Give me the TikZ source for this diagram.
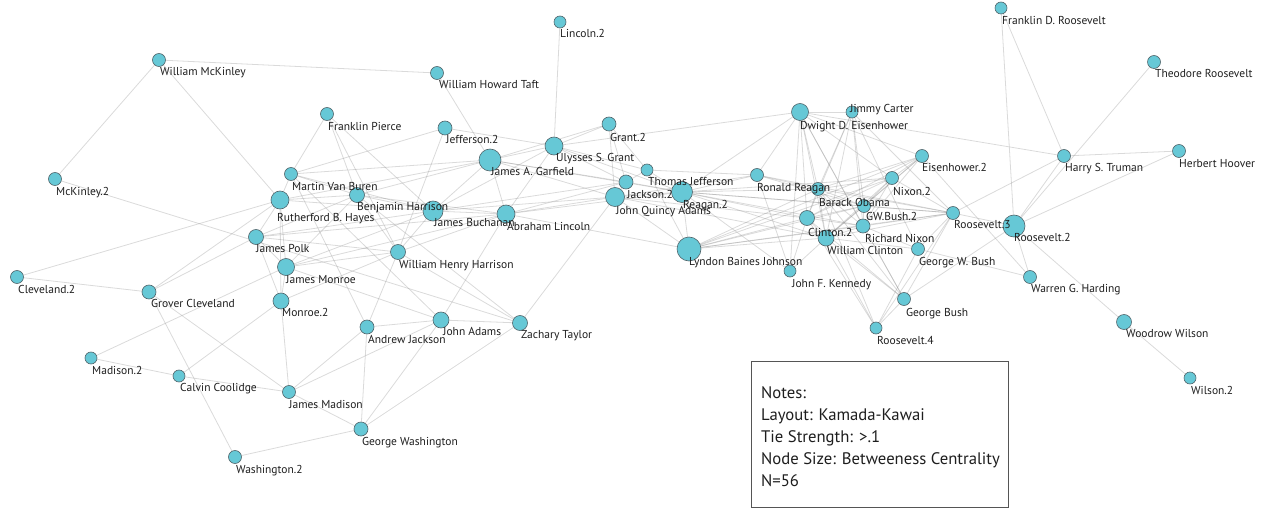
\documentclass[tikz,border=0pt]{standalone}
\usepackage{fontspec}
\setmainfont{PT Sans}
\usetikzlibrary{backgrounds}

\definecolor{nodefill}{RGB}{102,200,214}
\definecolor{nodeline}{RGB}{80,100,106}
\definecolor{tiecol}{RGB}{140,140,140}
\definecolor{boxline}{RGB}{85,85,85}
\definecolor{labtext}{RGB}{30,30,30}

\pgfdeclarelayer{names}
\pgfsetlayers{background,main,names}

\tikzset{
  presnode/.style={circle, fill=nodefill, draw=nodeline, line width=0.6pt,
                   inner sep=0pt, minimum size=#1},
  presname/.style={anchor=north west, inner sep=0pt, text=labtext,
                   font=\fontsize{11.5}{12}\selectfont},
  tie/.style={draw=tiecol, line width=0.8pt, opacity=0.32},
}

% \president{id}{x}{y}{diameter}{label x}{label y}{name}
\newcommand{\president}[7]{%
  \node[presnode=#4] (#1) at (#2,#3) {};
  \begin{pgfonlayer}{names}\node[presname] (#1-t) at (#5,#6) {#7};\end{pgfonlayer}}

\begin{document}
\begin{tikzpicture}[x=1pt,y=-1pt]
\useasboundingbox (0,0) rectangle (1267,508);

% presidents, sized by betweenness
\president{mck}{159}{60}{13}{160}{67}{William McKinley}
\president{mck2}{55}{179}{13}{56}{187}{McKinley.2}
\president{lin2}{560}{22}{12}{560}{29}{Lincoln.2}
\president{taft}{437}{73}{13}{439}{80}{William Howard Taft}
\president{pierce}{327}{114}{13}{328}{122}{Franklin Pierce}
\president{jef2}{445}{128}{14}{446}{135}{Jefferson.2}
\president{grant}{554}{146}{18}{556}{153}{Ulysses S. Grant}
\president{grant2}{609}{124}{14}{610}{133}{Grant.2}
\president{garf}{490}{160}{22}{491}{167}{James A. Garfield}
\president{mvb}{291}{174}{13}{292}{182}{Martin Van Buren}
\president{hayes}{280}{200}{18}{277}{213}{Rutherford B. Hayes}
\president{bharr}{357}{195}{15}{357}{202}{Benjamin Harrison}
\president{polk}{256}{237}{15}{256}{244}{James Polk}
\president{monroe}{286}{267}{17}{286}{275}{James Monroe}
\president{monroe2}{281}{301}{16}{282}{308}{Monroe.2}
\president{whh}{398}{252}{15}{399}{260}{William Henry Harrison}
\president{buch}{433}{211}{20}{434}{218}{James Buchanan}
\president{lincoln}{506}{214}{18}{507}{222}{Abraham Lincoln}
\president{tjef}{647}{170}{12}{648}{177}{Thomas Jefferson}
\president{jack2}{626}{182}{14}{627}{190}{Jackson.2}
\president{jqa}{615}{197}{19}{616}{206}{John Quincy Adams}
\president{reag2}{682}{192}{21}{683}{200}{Reagan.2}
\president{lbj}{689}{249}{24}{689}{257}{Lyndon Baines Johnson}
\president{dde}{800}{112}{17}{800}{121}{Dwight D. Eisenhower}
\president{carter}{852}{112}{12}{850}{104}{Jimmy Carter}
\president{rreag}{757}{175}{13}{757}{183}{Ronald Reagan}
\president{obama}{818}{189}{13}{819}{198}{Barack Obama}
\president{eis2}{922}{156}{13}{922}{163}{Eisenhower.2}
\president{nix2}{892}{178}{13}{893}{187}{Nixon.2}
\president{gwb2}{864}{206}{13}{866}{212}{GW.Bush.2}
\president{clin2}{807}{218}{15}{808}{228}{Clinton.2}
\president{rnix}{863}{226}{14}{865}{234}{Richard Nixon}
\president{wclin}{826}{238}{16}{827}{246}{William Clinton}
\president{roos3}{953}{213}{13}{954}{220}{Roosevelt.3}
\president{gwb}{918}{249}{13}{919}{257}{George W. Bush}
\president{jfk}{790}{271}{12}{792}{279}{John F. Kennedy}
\president{gbush}{904}{299}{13}{906}{308}{George Bush}
\president{roos4}{876}{328}{12}{877}{336}{Roosevelt.4}
\president{roos2}{1014}{226}{22}{1014}{233}{Roosevelt.2}
\president{truman}{1064}{156}{13}{1065}{163}{Harry S. Truman}
\president{hoover}{1179}{151}{13}{1179}{159}{Herbert Hoover}
\president{troos}{1154}{62}{13}{1155}{69}{Theodore Roosevelt}
\president{fdr}{1001}{8}{12}{1002}{16}{Franklin D. Roosevelt}
\president{harding}{1030}{277}{13}{1031}{284}{Warren G. Harding}
\president{wilson}{1124}{322}{15}{1126}{329}{Woodrow Wilson}
\president{wilson2}{1190}{378}{12}{1191}{386}{Wilson.2}
\president{grover}{149}{292}{14}{151}{299}{Grover Cleveland}
\president{clev2}{17}{277}{13}{18}{285}{Cleveland.2}
\president{madison2}{91}{358}{12}{92}{366}{Madison.2}
\president{coolidge}{179}{376}{12}{180}{383}{Calvin Coolidge}
\president{jmadison}{289}{392}{13}{289}{400}{James Madison}
\president{wash2}{235}{457}{13}{236}{465}{Washington.2}
\president{ajack}{367}{327}{14}{368}{335}{Andrew Jackson}
\president{jadams}{441}{320}{16}{443}{327}{John Adams}
\president{taylor}{520}{323}{15}{521}{330}{Zachary Taylor}
\president{gwash}{361}{429}{14}{362}{437}{George Washington}

% ties (strength > .1)
\begin{scope}[on background layer]
\foreach \a/\b in {
  mck/mck2, mck/taft, mck/hayes, mck2/taylor, clev2/grover, clev2/hayes,
  grover/polk, grover/hayes, grover/wash2, grover/jmadison,
  madison2/coolidge, madison2/monroe, coolidge/jmadison, coolidge/monroe2,
  wash2/gwash, jmadison/monroe2, jmadison/gwash, jmadison/ajack, jmadison/jadams,
  gwash/ajack, gwash/jadams, gwash/taylor, ajack/jadams, ajack/whh,
  jadams/taylor, jadams/lincoln, taylor/jqa, whh/taylor, bharr/taylor,
  monroe/jadams, mvb/jadams, lin2/grant, taft/garf, garf/lincoln,
  pierce/mvb, pierce/bharr, pierce/whh, pierce/buch,
  jef2/whh, jef2/grant, jef2/mvb,
  hayes/mvb, hayes/bharr, hayes/buch, hayes/polk, hayes/monroe, hayes/garf, hayes/monroe2,
  polk/bharr, polk/buch, polk/whh, polk/monroe, polk/monroe2, polk/lincoln,
  monroe/monroe2, monroe/buch, monroe/whh, monroe/bharr, monroe/lincoln, monroe2/whh,
  mvb/bharr, mvb/buch, mvb/garf, mvb/ajack,
  bharr/buch, bharr/lincoln, bharr/garf, bharr/whh,
  buch/lincoln, buch/garf, buch/whh, buch/jqa, buch/grant, buch/jack2,
  garf/grant, garf/jqa, garf/jack2, garf/reag2, garf/grant2,
  lincoln/jqa, lincoln/reag2, lincoln/lbj, lincoln/jack2, lincoln/grant, lincoln/whh,
  grant/grant2, grant/jack2, grant/tjef, grant/reag2, grant/dde,
  grant2/jack2, grant2/jqa, grant2/tjef, tjef/jack2, tjef/reag2, tjef/lbj, tjef/rreag,
  jqa/reag2, jqa/jack2, jqa/lbj, jqa/rreag, jqa/clin2, jqa/wclin, jack2/reag2,
  reag2/rreag, reag2/clin2, reag2/wclin, reag2/obama, reag2/gwb2, reag2/nix2,
  reag2/rnix, reag2/roos3, reag2/lbj,
  lbj/clin2, lbj/wclin, lbj/nix2, lbj/eis2, lbj/obama, lbj/rnix, lbj/gwb2, lbj/roos3,
  jfk/rreag, jfk/wclin, jfk/clin2, jfk/dde, jfk/reag2,
  dde/rreag, dde/clin2, dde/obama, dde/wclin, dde/rnix, dde/gbush, dde/eis2,
  dde/truman, dde/carter, dde/nix2, dde/reag2,
  carter/clin2, carter/obama, carter/gwb2, carter/rnix, carter/gwb, carter/roos3, carter/wclin,
  eis2/nix2, eis2/rnix, eis2/gwb2, eis2/wclin, eis2/clin2, eis2/harding, eis2/obama,
  nix2/roos3, nix2/gwb2, nix2/wclin, nix2/clin2, nix2/obama, nix2/rnix,
  roos3/roos2, roos3/truman, roos3/gwb, roos3/obama, roos3/rreag, roos3/wclin,
  roos3/gwb2, roos3/rnix,
  roos2/truman, roos2/hoover, roos2/fdr, fdr/truman, troos/roos2, truman/hoover,
  roos2/harding, roos2/wilson, wilson/wilson2, roos2/gbush, gwb/harding,
  gbush/roos4, gbush/clin2, gbush/wclin, gbush/roos3, gbush/rnix, gbush/obama,
  roos4/wclin, roos4/clin2, roos4/obama, roos4/roos3, roos4/gwb,
  rreag/obama, rreag/gwb2, obama/clin2, obama/wclin, obama/gwb2, obama/rnix,
  clin2/wclin, clin2/gwb2, clin2/rnix, wclin/rnix, wclin/gwb2, wclin/gwb,
  gwb2/rnix, rnix/gwb}
  \draw[tie] (\a) -- (\b);
\end{scope}

% legend
\node[draw=boxline, line width=0.8pt, anchor=north west, inner sep=0pt,
      minimum width=257pt, minimum height=146pt] (notesbox) at (751,361) {};
\node[anchor=north west, align=left, inner sep=0pt, text=labtext,
      font=\fontsize{16.7}{22}\selectfont] (notes) at (761,386)
  {Notes:\\Layout: Kamada-Kawai\\Tie Strength: >.1\\Node Size: Betweeness Centrality\\N=56};
\end{tikzpicture}
\end{document}
